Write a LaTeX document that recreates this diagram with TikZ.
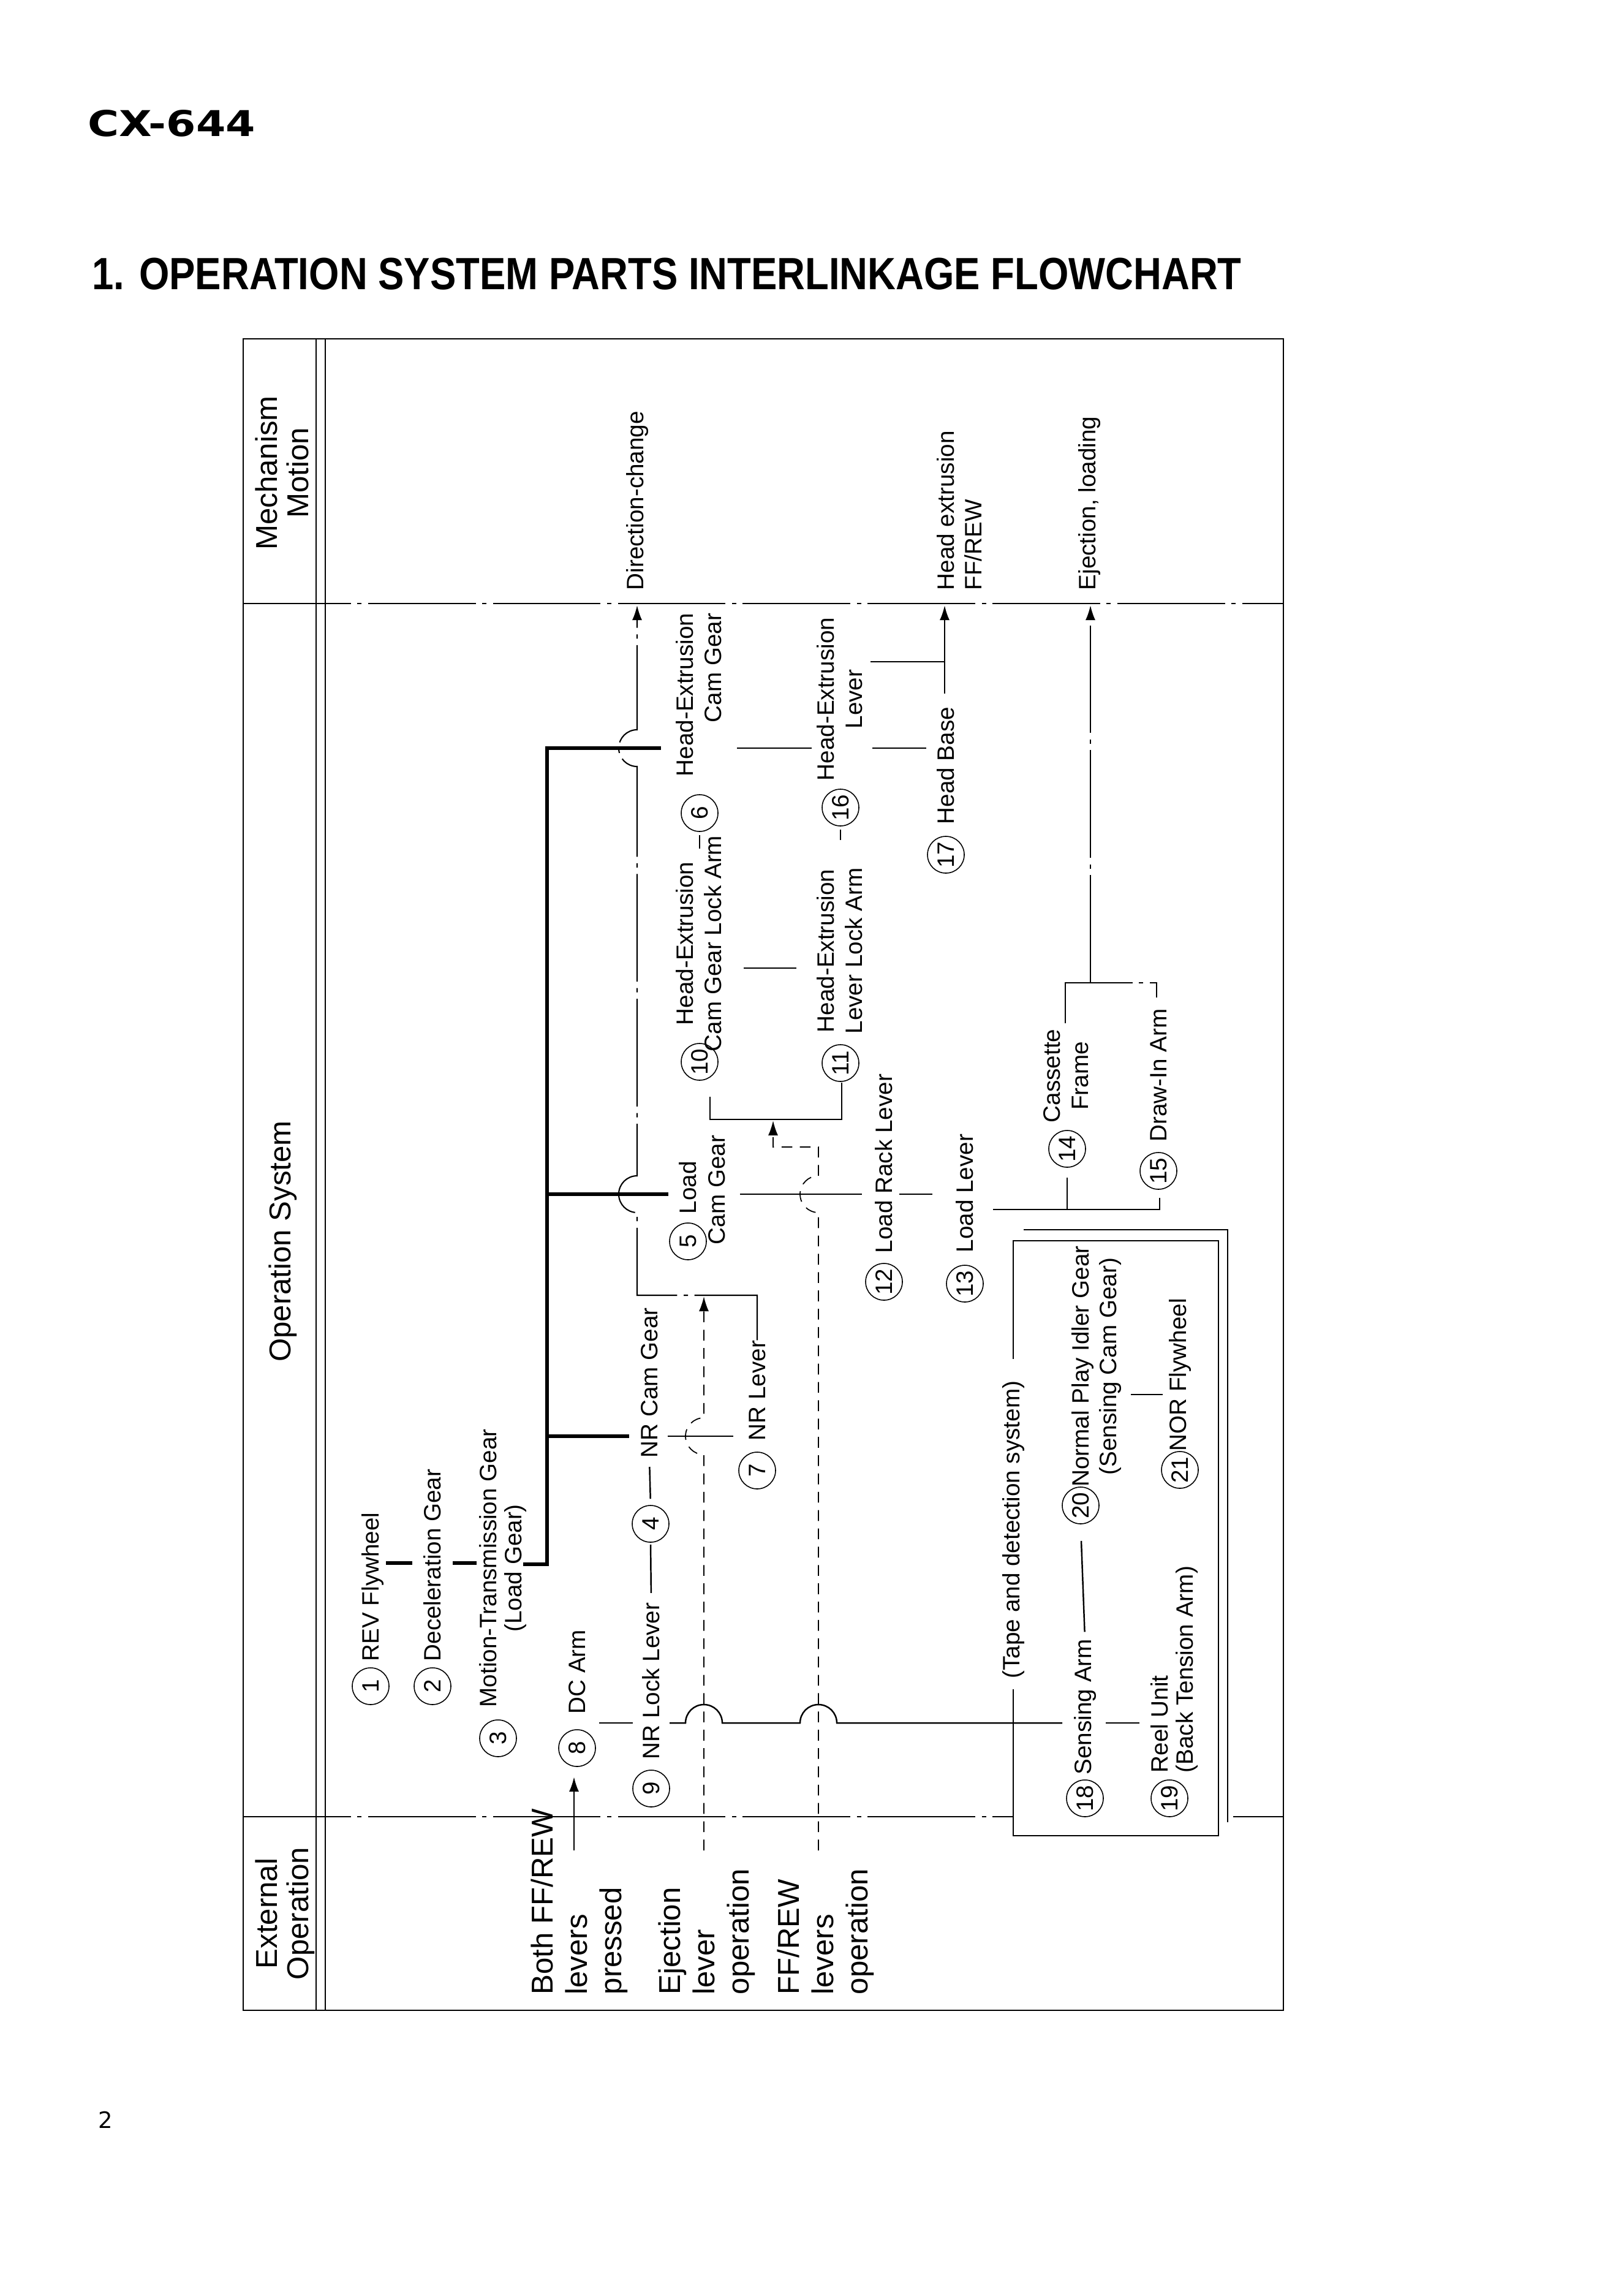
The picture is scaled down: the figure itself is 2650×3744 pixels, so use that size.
\documentclass[tikz,border=0pt]{standalone}
\usepackage{fontspec}
\setmainfont{Liberation Sans}
\newfontfamily\modelfont{DejaVu Sans}
\usetikzlibrary{arrows.meta}

\tikzset{
  lbl/.style={rotate=90, inner sep=0pt, font=\fontsize{11}{13}\selectfont},
  hdr/.style={rotate=90, inner sep=0pt, align=center, font=\fontsize{14}{14.5}\selectfont},
  extop/.style={rotate=90, inner sep=0pt, align=left, anchor=west, font=\fontsize{14}{16}\selectfont},
  num/.style={circle, draw, line width=0.45pt, minimum size=6mm, inner sep=0pt, rotate=90, font=\fontsize{11}{11}\selectfont},
  link/.style={line width=0.7pt},
  bus/.style={line width=1.7pt},
  rule/.style={line width=0.6pt},
  chain/.style={line width=0.6pt, dash pattern=on 50pt off 3pt on 2pt off 3pt},
  dashln/.style={line width=0.5pt, dash pattern=on 5pt off 3.5pt},
  arr/.style={-{Latex[length=2.4mm,width=1.6mm]}}
}

\begin{document}
\begin{tikzpicture}[x=0.1mm, y=-0.1mm]
\useasboundingbox (0,0) rectangle (2650,3744);

% page heading
\node[anchor=west, inner sep=0pt, font=\modelfont\bfseries\fontsize{16.5}{16.5}\selectfont] (model) at (143,201) {\scalebox{1.2}[1]{CX-644}};
\node[anchor=west, inner sep=0pt, font=\bfseries\fontsize{21}{22}\selectfont] (title) at (150,447) {\scalebox{0.86}[1]{1. OPERATION SYSTEM PARTS INTERLINKAGE FLOWCHART}};
\node[inner sep=0pt, font=\modelfont\fontsize{10.5}{10.5}\selectfont] (page) at (172,3460) {2};

% table frame
\draw[rule] (397,553) rectangle (2095,3281);
\draw[rule] (516,553) -- (516,3281);
\draw[rule] (531,553) -- (531,3281);
\draw[chain] (397,985) -- (2095,985);
\draw[chain] (397,2965) -- (1654,2965);
\draw[rule] (2013,2965) -- (2095,2965);

% column headings
\node[hdr] (hmech) at (460,772) {Mechanism\\Motion};
\node[hdr] (hopsys) at (462,2026) {Operation System};
\node[hdr] (hextop) at (465,3123) {External\\Operation};

% external operation
\node[extop] (eboth) at (946,3256) {Both FF/REW\\levers\\pressed};
\node[extop] (eeject) at (1154,3256) {Ejection\\lever\\operation};
\node[extop] (effrew) at (1348,3256) {FF/REW\\levers\\operation};

% mechanism motion
\node[lbl, anchor=west] (mdir) at (1040,964) {Direction-change};
\node[lbl, anchor=west, align=left] (mhead) at (1566,964) {Head extrusion\\FF/REW};
\node[lbl, anchor=west] (meject) at (1778,964) {Ejection, loading};

% operation system parts
\node[num] (n1) at (605,2752) {1};
\node[lbl, anchor=west] (t1) at (608,2712) {REV Flywheel};
\node[num] (n2) at (706,2752) {2};
\node[lbl, anchor=west] (t2) at (706,2712) {Deceleration Gear};
\node[num] (n3) at (813,2837) {3};
\node[lbl, anchor=west, align=center, font=\fontsize{11}{11.7}\selectfont] (t3) at (821,2787) {Motion-Transmission Gear\\(Load Gear)};
\node[num] (n8) at (942,2853) {8};
\node[lbl, anchor=west] (t8) at (942,2798) {DC Arm};
\node[num] (n9) at (1063,2919) {9};
\node[lbl, anchor=west] (t9) at (1063,2872) {NR Lock Lever};
\node[num] (n4) at (1062,2487) {4};
\node[lbl, anchor=west] (t4) at (1060,2380) {NR Cam Gear};
\node[num] (n7) at (1236,2400) {7};
\node[lbl, anchor=west] (t7) at (1236,2352) {NR Lever};
\node[num] (n5) at (1123,2026) {5};
\node[lbl, anchor=west] (t5a) at (1123,1982) {Load};
\node[lbl, anchor=west] (t5b) at (1170,2032) {Cam Gear};
\node[num] (n6) at (1142,1327) {6};
\node[lbl, anchor=east, align=right] (t6) at (1141,1000) {Head-Extrusion\\Cam Gear};
\node[num] (n10) at (1142,1733) {10};
\node[lbl, align=center] (t10) at (1141,1540) {Head-Extrusion\\Cam Gear Lock Arm};
\node[num] (n16) at (1372,1318) {16};
\node[lbl, align=center] (t16) at (1371,1141) {Head-Extrusion\\Lever};
\node[num] (n11) at (1372,1735) {11};
\node[lbl, align=center] (t11) at (1371,1552) {Head-Extrusion\\Lever Lock Arm};
\node[num] (n17) at (1544,1395) {17};
\node[lbl, anchor=west] (t17) at (1544,1346) {Head Base};
\node[num] (n12) at (1443,2092) {12};
\node[lbl, anchor=west] (t12) at (1443,2046) {Load Rack Lever};
\node[num] (n13) at (1575,2095) {13};
\node[lbl, anchor=west] (t13) at (1575,2045) {Load Lever};
\node[num] (n14) at (1742,1875) {14};
\node[lbl, align=center] (t14) at (1740,1756) {Cassette\\Frame};
\node[num] (n15) at (1891,1911) {15};
\node[lbl, anchor=west] (t15) at (1891,1864) {Draw-In Arm};
\node[lbl, anchor=west] (ttape) at (1654,2740) {(Tape and detection system)};
\node[num] (n18) at (1771,2935) {18};
\node[lbl, anchor=west] (t18) at (1771,2897) {Sensing Arm};
\node[num] (n19) at (1909,2935) {19};
\node[lbl, anchor=west, align=left, font=\fontsize{11}{11.7}\selectfont] (t19) at (1917,2894) {Reel Unit\\(Back Tension Arm)};
\node[num] (n20) at (1764,2457) {20};
\node[lbl, align=center] (t20) at (1790,2230) {Normal Play Idler Gear\\(Sensing Cam Gear)};
\node[num] (n21) at (1926,2399) {21};
\node[lbl, anchor=west] (t21) at (1926,2369) {NOR Flywheel};

% drive train and thick bus
\draw[bus] (630,2551) -- (673,2551);
\draw[bus] (739,2551) -- (778,2551);
\draw[bus] (854,2553) -- (893,2553) -- (893,1221) -- (1079,1221);
\draw[bus] (893,1949) -- (1091,1949);
\draw[bus] (893,2344) -- (1027,2344);

% head extrusion links
\draw[link] (1203,1221) -- (1325,1221);
\draw[link] (1424,1221) -- (1512,1221);
\draw[link] (1421,1080) -- (1542,1080);
\draw[link, arr] (1542,1132) -- (1542,988);
\draw[link] ([yshift=-0.5mm]n6.west) -- ++(0,22);
\draw[link] ([yshift=-0.5mm]n16.west) -- ++(0,17);
\draw[link] (1214,1580) -- (1300,1580);
\draw[link] (1159,1790) -- (1159,1827) -- (1374,1827) -- (1374,1767);

% NR links
\draw[link, shorten <=1mm, shorten >=1.4mm] (n4.east) -- (t4.west);
\draw[link, shorten <=1.5mm, shorten >=0.3mm] (t9.east) -- (n4.west);
\draw[link] (1090,2344) -- (1197,2344);
\draw[chain, arr] (t7.east) -- (1236,2114) -- (1040,2114) -- (1040,1979)
  arc[start angle=-90, end angle=-270, radius=3mm] -- (1040,1251)
  arc[start angle=-90, end angle=-270, radius=3mm] -- (1040,988);

% load links
\draw[link] (1208,1949) -- (1407,1949);
\draw[link] (1468,1949) -- (1522,1949);
\draw[link] (1621,1974) -- (1893,1974) -- (1893,1955);
\draw[link] (1742,1974) -- (1742,1922);
\draw[chain] (1739,1670) -- (1739,1604) -- (1888,1604) -- (1888,1628);
\draw[chain, arr] (1780,1604) -- (1780,988);

% external operation inputs
\draw[link, arr] (937,3020) -- (937,2900);
\draw[dashln, arr] (1149,3020) -- (1149,2374)
  arc[start angle=-90, end angle=-270, radius=3mm] -- (1149,2116);
\draw[dashln, arr] (1336,3020) -- (1336,1979)
  arc[start angle=-90, end angle=-270, radius=3mm] -- (1336,1872) -- (1262,1872) -- (1262,1829);

% DC arm to sensing arm
\draw[link] (978,2812) -- (1033,2812);
\draw[link] (1093,2812) -- (1119,2812) arc[start angle=180, end angle=0, radius=3mm]
  -- (1306,2812) arc[start angle=180, end angle=0, radius=3mm] -- (1734,2812);
\draw[link] (1805,2812) -- (1860,2812);
\draw[link, shorten <=1.1mm, shorten >=2.7mm] (t18.east) -- (n20.west);
\draw[link] (1846,2276) -- (1898,2276);

% tape and detection box
\draw[rule] (1654,2218) -- (1654,2025) -- (1989,2025) -- (1989,2996) -- (1654,2996) -- (1654,2757);
\draw[rule] (1671,2007) -- (2004,2007) -- (2004,2974);
\end{tikzpicture}
\end{document}
